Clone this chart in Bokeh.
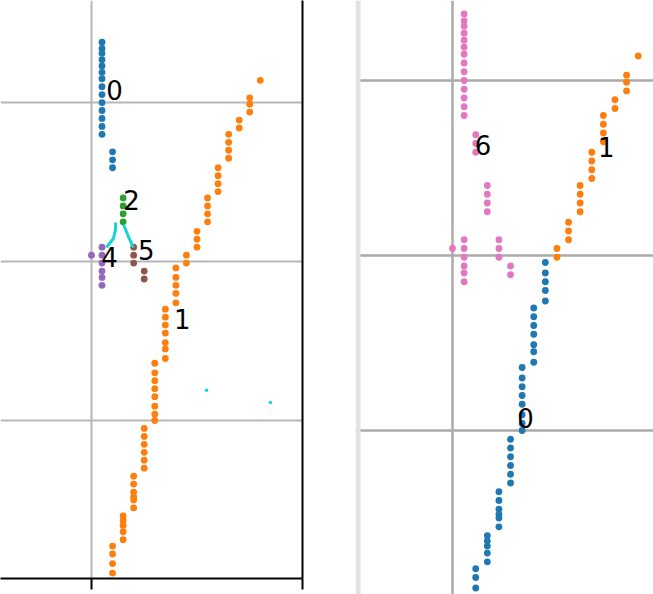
from bokeh.plotting import figure
from bokeh.layouts import row
from bokeh.models import FixedTicker, Grid, Span
from bokeh.core.properties import value
from bokeh.embed import file_html
from bokeh.resources import INLINE

# ---------------- data ----------------
# cluster "0" (left panel): tall column near x=0.05 plus a short column at x=0.10
c0_x = [0.05, 0.05, 0.05, 0.05, 0.05, 0.05, 0.05, 0.05, 0.05, 0.05, 0.05, 0.05, 0.05, 0.05,
        0.10, 0.10, 0.10]
c0_y = [2.38, 2.34, 2.31, 2.27, 2.23, 2.19, 2.15, 2.10, 2.05, 2.00, 1.95, 1.90, 1.85, 1.80,
        1.69, 1.64, 1.59]
# cluster "2"
c2_x = [0.15, 0.15, 0.15, 0.15]
c2_y = [1.40, 1.35, 1.30, 1.25]
# cluster "4"
c4_x = [0.00, 0.05, 0.05, 0.05, 0.05, 0.05, 0.05]
c4_y = [1.04, 1.09, 1.04, 0.99, 0.94, 0.90, 0.85]
# cluster "5"
c5_x = [0.20, 0.20, 0.20, 0.25, 0.25]
c5_y = [1.09, 1.04, 0.99, 0.94, 0.89]
# staircase, lower part (x <= 0.40)
low_x = [0.10, 0.10, 0.10, 0.10,
         0.15, 0.15, 0.15, 0.15, 0.15,
         0.20, 0.20, 0.20, 0.20, 0.20, 0.20,
         0.25, 0.25, 0.25, 0.25, 0.25, 0.25,
         0.30, 0.30, 0.30, 0.30, 0.30, 0.30, 0.30, 0.30,
         0.35, 0.35, 0.35, 0.35, 0.35, 0.35, 0.35,
         0.40, 0.40, 0.40, 0.40, 0.40]
low_y = [-0.79, -0.84, -0.90, -0.96,
         -0.60, -0.63, -0.66, -0.70, -0.75,
         -0.35, -0.40, -0.45, -0.48, -0.50, -0.55,
         -0.05, -0.10, -0.15, -0.20, -0.25, -0.30,
         0.36, 0.30, 0.25, 0.20, 0.15, 0.09, 0.04, 0.00,
         0.70, 0.65, 0.60, 0.55, 0.49, 0.45, 0.39,
         0.96, 0.90, 0.85, 0.80, 0.74]
# staircase, upper part (x >= 0.45)
up_x = [0.45, 0.45,
        0.50, 0.50, 0.50,
        0.55, 0.55, 0.55, 0.55,
        0.60, 0.60, 0.60, 0.60,
        0.65, 0.65, 0.65, 0.65,
        0.70, 0.70,
        0.75, 0.75, 0.75,
        0.80]
up_y = [1.04, 0.99,
        1.19, 1.14, 1.09,
        1.40, 1.35, 1.30, 1.25,
        1.59, 1.54, 1.49, 1.44,
        1.80, 1.75, 1.70, 1.65,
        1.89, 1.84,
        2.03, 1.99, 1.94,
        2.14]
# cyan links and stray points (left panel)
link_xs = [[0.114, 0.114, 0.104, 0.071], [0.152, 0.175, 0.199]]
link_ys = [[1.245, 1.200, 1.145, 1.088], [1.233, 1.157, 1.088]]
stray_x = [0.545, 0.848]
stray_y = [0.19, 0.113]

# cluster labels
left_lab = ["0", "1", "2", "4", "5"]
left_lab_x = [0.109, 0.43, 0.19, 0.085, 0.26]
left_lab_y = [2.08, 0.64, 1.39, 1.03, 1.07]
right_lab = ["6", "1", "0"]
right_lab_x = [0.131, 0.662, 0.315]
right_lab_y = [1.63, 1.62, 0.074]

BLUE, ORANGE, GREEN = "#1f77b4", "#ff7f0e", "#2ca02c"
PURPLE, BROWN, PINK, CYAN = "#9467bd", "#8c564b", "#e377c2", "#17d4d4"
GRID = "#b8b8b8"
FONT = value("DejaVu Sans")
DOT = 6.8

# ---------------- left panel ----------------
p1 = figure(frame_width=302, frame_height=578,
            x_range=(-0.431, 1.0), y_range=(-0.994, 2.642),
            x_axis_location="below", y_axis_location="right",
            min_border_left=0, min_border_top=0, min_border_right=53,
            min_border_bottom=14,
            output_backend="svg", toolbar_location=None)
p1.outline_line_color = None
p1.xaxis.ticker = FixedTicker(ticks=[0, 1])
p1.xaxis.major_tick_out = 11
p1.xaxis.major_tick_in = 0
p1.xaxis.minor_tick_out = 0
p1.xaxis.minor_tick_in = 0
p1.xaxis.major_tick_line_width = 2
p1.xaxis.axis_line_width = 2
p1.xaxis.major_label_text_font_size = "1px"
p1.xaxis.major_label_text_color = None
p1.yaxis.ticker = FixedTicker(ticks=[0, 1, 2])
p1.yaxis.major_tick_out = 0
p1.yaxis.major_tick_in = 0
p1.yaxis.minor_tick_out = 0
p1.yaxis.minor_tick_in = 0
p1.yaxis.axis_line_width = 2
p1.yaxis.major_label_text_font_size = "1px"
p1.yaxis.major_label_text_color = None
for g in (p1.xgrid, p1.ygrid):
    g.grid_line_color = GRID
    g.grid_line_width = 2

p1.scatter(x=low_x + up_x, y=low_y + up_y, size=DOT, fill_color=ORANGE, line_color=None)
p1.scatter(x=c0_x, y=c0_y, size=DOT, fill_color=BLUE, line_color=None)
p1.scatter(x=c2_x, y=c2_y, size=DOT, fill_color=GREEN, line_color=None)
p1.scatter(x=c4_x, y=c4_y, size=DOT, fill_color=PURPLE, line_color=None)
p1.scatter(x=c5_x, y=c5_y, size=DOT, fill_color=BROWN, line_color=None)
p1.multi_line(xs=link_xs, ys=link_ys, line_color=CYAN, line_width=3)
p1.scatter(x=stray_x, y=stray_y, size=3.5, fill_color=CYAN, line_color=None)
p1.text(x=left_lab_x, y=left_lab_y, text=left_lab, text_font=FONT,
        text_font_size="26px", text_color="black",
        text_align="center", text_baseline="middle")

# ---------------- right panel ----------------
p2 = figure(frame_width=298, frame_height=594,
            x_range=(-0.418, 0.866), y_range=(-0.937, 2.457),
            x_axis_location=None, y_axis_location=None, min_border=0,
            output_backend="svg", toolbar_location=None)
p2.outline_line_color = None
for g in p2.renderers + list(p2.center):
    if isinstance(g, Grid):
        g.visible = False
p2.add_layout(Grid(dimension=0, ticker=FixedTicker(ticks=[0]),
                   grid_line_color="#ababab", grid_line_width=2.5))
p2.add_layout(Grid(dimension=1, ticker=FixedTicker(ticks=[0, 1, 2]),
                   grid_line_color="#ababab", grid_line_width=2.5))
p2.add_layout(Span(location=-0.407, dimension="height",
                   line_color="#e2e2e2", line_width=5))

p2.scatter(x=c0_x + c2_x + c4_x + c5_x, y=c0_y + c2_y + c4_y + c5_y,
           size=DOT, fill_color=PINK, line_color=None)
p2.scatter(x=low_x, y=low_y, size=DOT, fill_color=BLUE, line_color=None)
p2.scatter(x=up_x, y=up_y, size=DOT, fill_color=ORANGE, line_color=None)
p2.text(x=right_lab_x, y=right_lab_y, text=right_lab, text_font=FONT,
        text_font_size="26px", text_color="black",
        text_align="center", text_baseline="middle")

layout = row(p1, p2)
open("out.html", "w").write(file_html(layout, INLINE))
